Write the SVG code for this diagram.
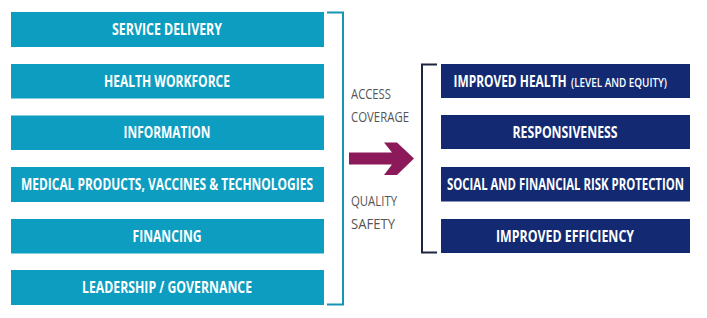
<svg xmlns="http://www.w3.org/2000/svg" width="707" height="318" viewBox="0 0 707 318">
<style>
.lb{fill:#0C9DC0}
.rb{fill:#132A72}
.bt{font-family:"Open Sans","Liberation Sans",sans-serif;font-weight:700;font-size:15.5px;fill:#fff;text-anchor:middle}
.st{font-family:"Open Sans","Liberation Sans",sans-serif;font-weight:600;font-size:12px;fill:#fff}
.gt{font-family:"Open Sans","Liberation Sans",sans-serif;font-size:15px;fill:#555}
.br{fill:none;stroke-width:2}
</style>
<rect width="707" height="318" fill="#fff"/>
<g id="service-delivery"><rect class="lb" x="11" y="12" width="313" height="35"/><text class="bt" x="167" y="35" textLength="110" lengthAdjust="spacingAndGlyphs">SERVICE DELIVERY</text></g>
<g id="health-workforce"><rect class="lb" x="11" y="64" width="313" height="34.5"/><text class="bt" x="167" y="86.5" textLength="126" lengthAdjust="spacingAndGlyphs">HEALTH WORKFORCE</text></g>
<g id="information"><rect class="lb" x="11" y="115.5" width="313" height="34.5"/><text class="bt" x="167" y="138" textLength="87" lengthAdjust="spacingAndGlyphs">INFORMATION</text></g>
<g id="medical-products"><rect class="lb" x="11" y="167" width="313" height="35"/><text class="bt" x="167" y="190" textLength="292" lengthAdjust="spacingAndGlyphs">MEDICAL PRODUCTS, VACCINES &amp; TECHNOLOGIES</text></g>
<g id="financing"><rect class="lb" x="11" y="219" width="313" height="34.5"/><text class="bt" x="167" y="241.5" textLength="69" lengthAdjust="spacingAndGlyphs">FINANCING</text></g>
<g id="leadership"><rect class="lb" x="11" y="270" width="313" height="35"/><text class="bt" x="167" y="293" textLength="170" lengthAdjust="spacingAndGlyphs">LEADERSHIP / GOVERNANCE</text></g>

<g id="improved-health"><rect class="rb" x="441" y="64" width="249" height="34"/><text class="bt" x="453.5" y="87" style="text-anchor:start" textLength="113" lengthAdjust="spacingAndGlyphs">IMPROVED HEALTH</text><text class="st" x="571" y="87" textLength="96" lengthAdjust="spacingAndGlyphs">(LEVEL AND EQUITY)</text></g>
<g id="responsiveness"><rect class="rb" x="441" y="115" width="249" height="34"/><text class="bt" x="565" y="138" textLength="105" lengthAdjust="spacingAndGlyphs">RESPONSIVENESS</text></g>
<g id="risk-protection"><rect class="rb" x="441" y="167" width="249" height="34.5"/><text class="bt" x="565.5" y="190" textLength="237" lengthAdjust="spacingAndGlyphs">SOCIAL AND FINANCIAL RISK PROTECTION</text></g>
<g id="improved-efficiency"><rect class="rb" x="441" y="219" width="249" height="34"/><text class="bt" x="565" y="242" textLength="138" lengthAdjust="spacingAndGlyphs">IMPROVED EFFICIENCY</text></g>

<g id="connectors">
<path class="br" stroke="#1495B5" d="M327 12.5H343V304.5H327"/>
<path class="br" stroke="#1E2540" d="M437 64.5H422V252.5H437"/>
<polygon fill="#8C1A5A" points="349,152.5 392,152.5 384,142.5 397,142.5 414,158.5 397,175 384,175 392,164.5 349,164.5"/>
<text class="gt" x="351" y="98.5" textLength="40" lengthAdjust="spacingAndGlyphs">ACCESS</text>
<text class="gt" x="351" y="122" textLength="58" lengthAdjust="spacingAndGlyphs">COVERAGE</text>
<text class="gt" x="351" y="206" textLength="46" lengthAdjust="spacingAndGlyphs">QUALITY</text>
<text class="gt" x="351" y="229" textLength="44" lengthAdjust="spacingAndGlyphs">SAFETY</text>
</g>
</svg>
